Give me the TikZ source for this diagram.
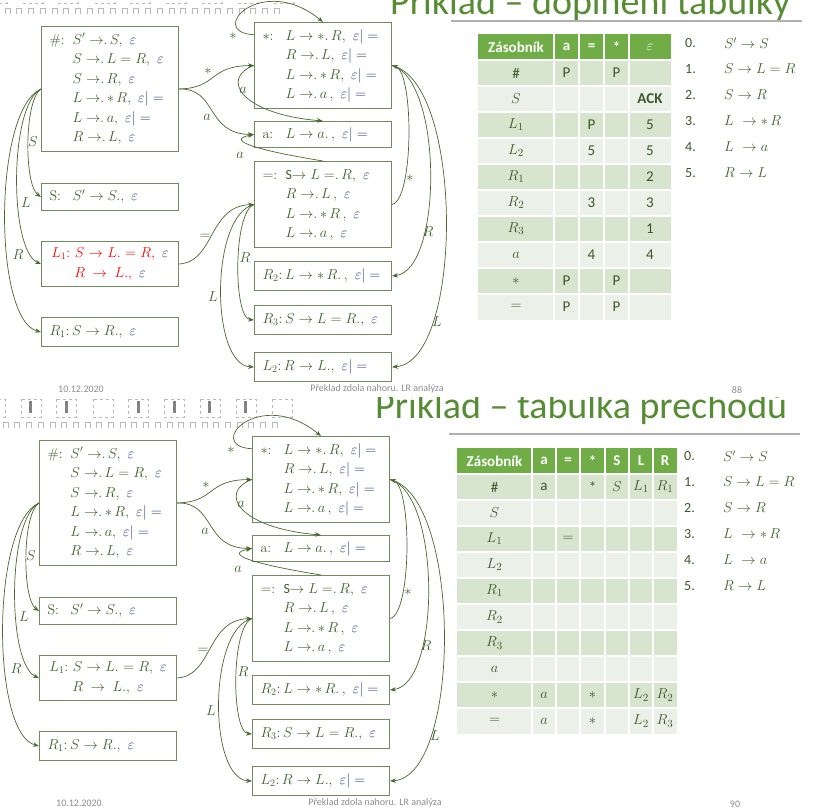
\documentclass[tikz,border=0pt]{standalone}
\usepackage{fontspec}
\newfontfamily\sansf{Carlito}
\usetikzlibrary{arrows.meta}

\definecolor{boxgreen}{RGB}{112,140,92}
\definecolor{textgreen}{RGB}{62,98,42}
\definecolor{epsblue}{RGB}{42,62,120}
\definecolor{arrowgreen}{RGB}{72,104,44}
\definecolor{headgreen}{RGB}{112,173,71}
\definecolor{rowdark}{RGB}{215,228,206}
\definecolor{rowlight}{RGB}{235,241,232}
\definecolor{tabgreen}{RGB}{58,88,40}
\definecolor{titlegreen}{RGB}{86,140,52}
\definecolor{footgray}{RGB}{140,140,140}
\definecolor{rulegray}{RGB}{175,175,175}
\definecolor{stripgray}{RGB}{185,185,185}

\newcommand{\Eps}{\textcolor{epsblue}{\varepsilon}}
\newcommand{\EpsEq}{\textcolor{epsblue}{\varepsilon|=}}
\newcommand{\mdot}{\mathpunct{.}}

\tikzset{
  state/.style={draw=boxgreen, line width=1pt, fill=white, text=textgreen,
    inner xsep=8pt, inner ysep=0pt, text width=121pt, align=left, anchor=north west,
    font={\fontsize{14}{19.5}\selectfont\relpenalty=10000\binoppenalty=10000}},
  edge/.style={draw=arrowgreen, line width=0.7pt, -{Stealth[length=6pt,width=4.5pt]}},
  lbl/.style={text=textgreen, inner sep=0pt, font=\fontsize{14}{16}\selectfont},
  cell/.style={text=tabgreen, inner sep=0pt, font=\sansf\fontsize{15}{17}\selectfont},
  headcell/.style={text=white, inner sep=0pt, font=\sansf\bfseries\fontsize{15}{17}\selectfont},
  rulenum/.style={text=tabgreen, anchor=west, inner sep=0pt, font=\sansf\fontsize{14}{16}\selectfont},
  rulebody/.style={text=textgreen, anchor=west, inner sep=0pt, font=\fontsize{14}{16}\selectfont},
  foot/.style={text=footgray, inner sep=0pt, font=\sansf\fontsize{10}{12}\selectfont},
  slidetitle/.style={text=titlegreen, anchor=base west, inner sep=0pt, font=\sansf\fontsize{38}{40}\selectfont},
}

\begin{document}
\begin{tikzpicture}[x=1pt, y=-1pt]

    \useasboundingbox (0,0) rectangle (815,810);

    % Both slides share the automaton, the strip and the footer
    \foreach \dx/\dy/\lcol/\pg in {0/0/red/88, -2/414/textgreen/90} {
    \begin{scope}[shift={(\dx,\dy)}]

    % Film strip at the top of the slide
    \foreach \fx in {-13,23,58,95,130,166,202,238,274}
        \draw[stripgray, dashed, line width=0.5pt] (\fx,-15) rectangle ++(20,18);
    \foreach \bx in {32,68,140,176,211,247}
        \fill[stripgray!70!black] ({\bx-1.5},-13) rectangle ++(3,12);
    \foreach \k in {0,...,23}
        \draw[stripgray, line width=0.6pt] ({5+11.7*\k},14) -- ++(0,-6) -- ++(5,0) -- ++(0,6);

    % States of the automaton
    \node[state, minimum height=125pt] (hash) at (41,26) {\begin{tabular}{@{}p{16pt}@{\hspace{7pt}}l@{}}
        \#: & $S'\to\mdot S,\ \Eps$\\
            & $S\to\mdot L=R,\ \Eps$\\
            & $S\to\mdot R,\ \Eps$\\
            & $L\to\mdot{*}\,R,\ \EpsEq$\\
            & $L\to\mdot a,\ \EpsEq$\\
            & $R\to\mdot L,\ \Eps$
        \end{tabular}};
    \node[state, minimum height=27pt] (sS) at (41,183) {\begin{tabular}{@{}p{16pt}@{\hspace{7pt}}l@{}}
        S: & $S'\to S.,\ \Eps$
        \end{tabular}};
    \node[state, minimum height=45pt, align=center, text=\lcol] (sL1) at (41,241)
        {$L_1{:}\ S\to L.=R,\ \Eps$\\ $R\to L.,\ \Eps$};
    \node[state, minimum height=29pt] (sR1) at (41,317) {$R_1{:}\,S\to R.,\ \Eps$};

    \node[state, minimum height=86pt] (star) at (254,22) {\begin{tabular}{@{}p{16pt}@{\hspace{7pt}}l@{}}
        $*$: & $L\to{*}\mdot R,\ \EpsEq$\\
             & $R\to\mdot L,\ \EpsEq$\\
             & $L\to\mdot{*}\,R,\ \EpsEq$\\
             & $L\to\mdot a\,,\ \EpsEq$
        \end{tabular}};
    \node[state, minimum height=26pt] (sa) at (254,121) {\begin{tabular}{@{}p{16pt}@{\hspace{7pt}}l@{}}
        a: & $L\to a.\,,\ \EpsEq$
        \end{tabular}};
    \node[state, minimum height=86pt] (seq) at (254,161) {\begin{tabular}{@{}p{16pt}@{\hspace{7pt}}l@{}}
        $=$: & {\sansf S}$\to L=\mdot R,\ \Eps$\\
             & $R\to\mdot L\,,\ \Eps$\\
             & $L\to\mdot{*}\,R\,,\ \Eps$\\
             & $L\to\mdot a\,,\ \Eps$
        \end{tabular}};
    \node[state, minimum height=29pt] (sR2) at (254,261) {$R_2{:}\,L\to{*}\,R.\,,\ \EpsEq$};
    \node[state, minimum height=29pt] (sR3) at (254,305) {$R_3{:}\,S\to L=R.,\ \Eps$};
    \node[state, minimum height=29pt] (sL2) at (254,352) {$L_2{:}\,R\to L.,\ \EpsEq$};

    % Transitions
    \draw[edge] (hash.east) .. controls (218,88) and (208,66) .. (star.west);
    \draw[edge] (hash.east) .. controls (218,88) and (205,134) .. (sa.west);
    \draw[edge] (star.156) .. controls (205,32) and (262,-28) .. (star.north);
    \draw[edge] (star.west) .. controls (220,78) and (240,114) .. (sa.north);
    \draw[edge] (seq.north) .. controls (255,150) and (225,140) .. (sa.west);
    \draw[edge] (hash.west) .. controls (24,100) and (24,185) .. (sS.west);
    \draw[edge] (hash.west) .. controls (9,105) and (9,250) .. (sL1.west);
    \draw[edge] (hash.west) .. controls (-7,110) and (-7,320) .. (sR1.west);
    \draw[edge] (sL1.east) .. controls (215,262) and (208,206) .. (seq.west);
    \draw[edge] (seq.west) .. controls (233,212) and (233,318) .. (sR3.west);
    \draw[edge] (seq.west) .. controls (210,215) and (210,365) .. (sL2.west);
    \draw[edge] (seq.east) .. controls (414,200) and (414,72) .. (star.east);
    \draw[edge] (star.east) .. controls (443,80) and (443,270) .. (sR2.east);
    \draw[edge] (star.east) .. controls (464,82) and (464,362) .. (sL2.east);

    % Transition labels
    \node[lbl] (lb1) at (208,71) {$*$};
    \node[lbl] (lb2) at (207,117) {$a$};
    \node[lbl] (lb3) at (233,36) {$*$};
    \node[lbl] (lb4) at (243,90) {$a$};
    \node[lbl] (lb5) at (240,155) {$a$};
    \node[lbl] (lb6) at (33,142) {$S$};
    \node[lbl] (lb7) at (26,203) {$L$};
    \node[lbl] (lb8) at (18,255) {$R$};
    \node[lbl] (lb9) at (205,237) {$=$};
    \node[lbl] (lb10) at (245,258) {$R$};
    \node[lbl] (lb11) at (213,297) {$L$};
    \node[lbl] (lb12) at (410,178) {$*$};
    \node[lbl] (lb13) at (428,232) {$R$};
    \node[lbl] (lb14) at (437,322) {$L$};

    % Footer
    \node[foot, anchor=west] (date) at (58,389) {10.12.2020};
    \node[foot] (topic) at (377,389) {Překlad zdola nahoru. LR analýza};
    \node[foot] (page) at (737,390) {\pg};

    \end{scope}
    }

    % Slide titles
    \node[slidetitle] (title1) at (390,15) {Příklad – doplnění tabulky};
    \draw[rulegray, line width=1.2pt] (451,21) -- (802,21);
    \begin{scope}
        \clip (0,398) rectangle (815,810);
        \node[slidetitle] (title2) at (375,419) {Příklad – tabulka přechodů};
    \end{scope}
    \draw[rulegray, line width=1.2pt] (449,434) -- (800,434);

    % Table of the first slide
    \fill[headgreen] (478,34) rectangle (671,60);
    \foreach \i in {0,2,4,6,8}
        \fill[rowdark] (478,{60+26*\i}) rectangle (671,{86+26*\i});
    \foreach \i in {1,3,5,7,9}
        \fill[rowlight] (478,{60+26*\i}) rectangle (671,{86+26*\i});
    \foreach \x in {554,579,604,629}
        \draw[white, line width=2pt] (\x,34) -- (\x,320);
    \foreach \i in {0,...,9}
        \draw[white, line width=2pt] (478,{60+26*\i}) -- (671,{60+26*\i});
    \foreach \hx/\htext [count=\j] in {516/Zásobník, 566.5/a, 591.5/=, 616.5/*, 650/$\varepsilon$}
        \node[headcell] (th\j) at (\hx,47) {\htext};
    \foreach \cname/\cA/\cEq/\cStar/\cEps [count=\i from 0] in {\#/P/{}/P/{}, $S$/{}/{}/{}/\textbf{ACK},
        $L_1$/{}/P/{}/5, $L_2$/{}/5/{}/5, $R_1$/{}/{}/{}/2, $R_2$/{}/3/{}/3, $R_3$/{}/{}/{}/1,
        $a$/{}/4/{}/4, $*$/P/{}/P/{}, $=$/P/{}/P/{}} {
        \node[cell] (tn\i) at (516,{73+26*\i}) {\cname};
        \node[cell] (ta\i) at (566.5,{73+26*\i}) {\cA};
        \node[cell] (tq\i) at (591.5,{73+26*\i}) {\cEq};
        \node[cell] (ts\i) at (616.5,{73+26*\i}) {\cStar};
        \node[cell] (te\i) at (650,{73+26*\i}) {\cEps};
    }

    % Table of the second slide
    \fill[headgreen] (457,448) rectangle (677,474);
    \foreach \i in {0,2,4,6,8}
        \fill[rowdark] (457,{474+26*\i}) rectangle (677,{500+26*\i});
    \foreach \i in {1,3,5,7,9}
        \fill[rowlight] (457,{474+26*\i}) rectangle (677,{500+26*\i});
    \foreach \x in {532,556,580,605,629,653}
        \draw[white, line width=2pt] (\x,448) -- (\x,734);
    \foreach \i in {0,...,9}
        \draw[white, line width=2pt] (457,{474+26*\i}) -- (677,{474+26*\i});
    \foreach \hx/\htext [count=\j] in {494.5/Zásobník, 544/a, 568/=, 592.5/*, 617/S, 641/L, 665/R}
        \node[headcell] (bh\j) at (\hx,461) {\htext};
    \foreach \cname/\cA/\cEq/\cStar/\cS/\cL/\cR [count=\i from 0] in {\#/a/{}/*/$S$/$L_1$/$R_1$,
        $S$/{}/{}/{}/{}/{}/{}, $L_1$/{}/$=$/{}/{}/{}/{}, $L_2$/{}/{}/{}/{}/{}/{},
        $R_1$/{}/{}/{}/{}/{}/{}, $R_2$/{}/{}/{}/{}/{}/{}, $R_3$/{}/{}/{}/{}/{}/{},
        $a$/{}/{}/{}/{}/{}/{}, $*$/$a$/{}/$*$/{}/$L_2$/$R_2$, $=$/$a$/{}/$*$/{}/$L_2$/$R_3$} {
        \node[cell] (bn\i) at (494.5,{487+26*\i}) {\cname};
        \node[cell] (ba\i) at (544,{487+26*\i}) {\cA};
        \node[cell] (bq\i) at (568,{487+26*\i}) {\cEq};
        \node[cell] (bs\i) at (592.5,{487+26*\i}) {\cStar};
        \node[cell] (bS\i) at (617,{487+26*\i}) {\cS};
        \node[cell] (bL\i) at (641,{487+26*\i}) {\cL};
        \node[cell] (bR\i) at (665,{487+26*\i}) {\cR};
    }

    % Grammar rules beside both tables
    \foreach \k/\rbody [count=\i from 0] in {0./$S'\to S$, 1./$S\to L=R$, 2./$S\to R$,
        3./$L\ \to{*}\,R$, 4./$L\ \to a$, 5./$R\to L$} {
        \node[rulenum] (rn\i) at (685,{43+26*\i}) {\k};
        \node[rulebody] (rb\i) at (724,{43+26*\i}) {\rbody};
        \node[rulenum] (sn\i) at (684,{456+26*\i}) {\k};
        \node[rulebody] (sb\i) at (723,{456+26*\i}) {\rbody};
    }

\end{tikzpicture}
\end{document}
